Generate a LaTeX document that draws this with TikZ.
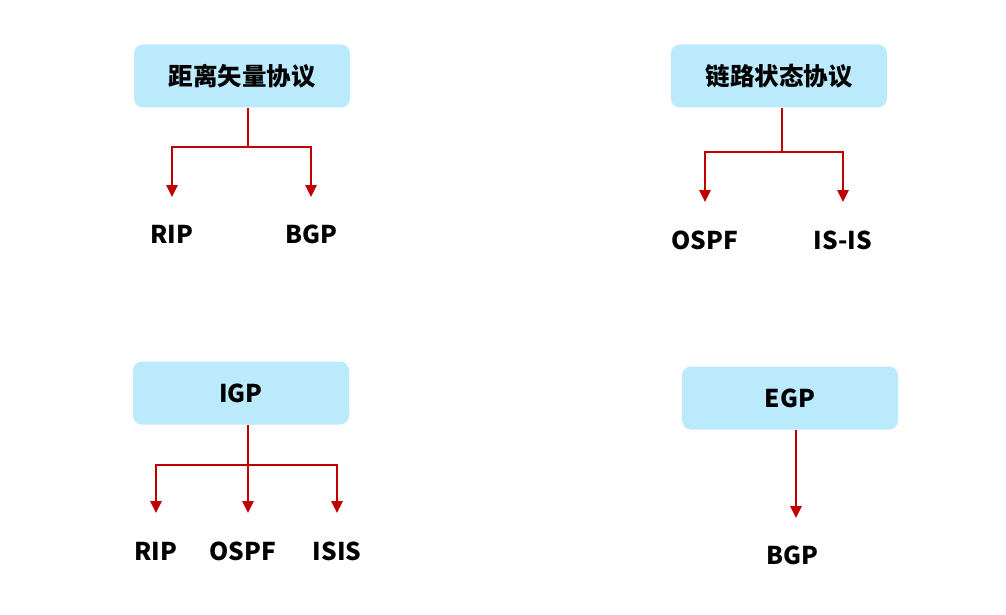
\documentclass[tikz,border=0pt]{standalone}
\usepackage{fontspec}
\setmainfont{Noto Sans CJK SC}
\usetikzlibrary{arrows.meta}
\definecolor{boxblue}{RGB}{186,234,252}
\definecolor{linered}{RGB}{192,0,0}
\begin{document}
\begin{tikzpicture}[x=1pt,y=-1pt,
  font=\bfseries\fontsize{24.5}{28}\selectfont,
  box/.style={fill=boxblue, rounded corners=9pt, minimum width=216pt, minimum height=63pt, inner sep=0pt},
  lbl/.style={inner sep=0pt},
  conn/.style={draw=linered, line width=2.6pt},
  arr/.style={conn, -{Triangle[width=11pt,length=12pt]}}]
\fill[white] (0,0) rectangle (1006,615);
\useasboundingbox (0,0) rectangle (1006,615);
% boxes
\node[box] (b1) at (242,76) {距离矢量协议};
\node[box] (b2) at (779,76) {链路状态协议};
\node[box] (b3) at (241,393) {IGP};
\node[box] (b4) at (790,398) {EGP};
% labels
\node[lbl] (l1a) at (172,234) {RIP};
\node[lbl] (l1b) at (311,234) {BGP};
\node[lbl] (l2a) at (705,240) {OSPF};
\node[lbl] (l2b) at (843,240) {IS-IS};
\node[lbl] (l3a) at (156,551) {RIP};
\node[lbl] (l3b) at (243,551) {OSPF};
\node[lbl] (l3c) at (337,551) {ISIS};
\node[lbl] (l4a) at (792,555) {BGP};
% junctions and tips
\coordinate (j1) at (248,147);
\coordinate (t1a) at (172,197);
\coordinate (t1b) at (311,197);
\coordinate (j2) at (782,152);
\coordinate (t2a) at (705,202);
\coordinate (t2b) at (843,202);
\coordinate (j3) at (248,465);
\coordinate (t3a) at (156,513);
\coordinate (t3b) at (248,513);
\coordinate (t3c) at (337,513);
\coordinate (t4a) at (796,518);
% connectors
\draw[conn] (b1.south -| j1) -- (j1);
\draw[arr] (j1) -| (t1a);
\draw[arr] (j1) -| (t1b);
\draw[conn] (b2.south -| j2) -- (j2);
\draw[arr] (j2) -| (t2a);
\draw[arr] (j2) -| (t2b);
\draw[conn] (b3.south -| j3) -- (j3);
\draw[arr] (j3) -| (t3a);
\draw[arr] (j3) -- (t3b);
\draw[arr] (j3) -| (t3c);
\draw[arr] (b4.south -| t4a) -- (t4a);
\end{tikzpicture}
\end{document}
